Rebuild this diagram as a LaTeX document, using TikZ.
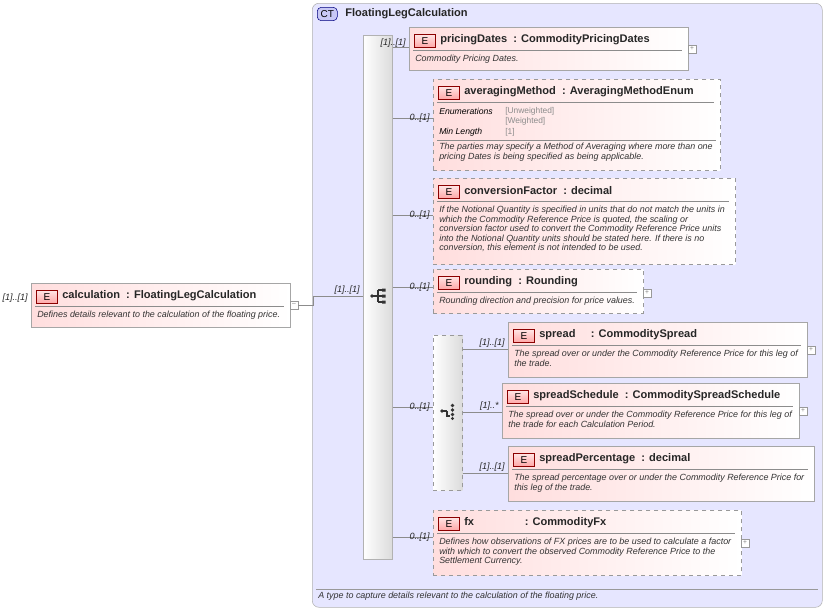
\documentclass[tikz,border=0pt]{standalone}
\usepackage{fontspec}
\setmainfont{Liberation Sans}
\begin{document}
\begin{tikzpicture}[x=0.75pt,y=-0.75pt,
  elem/.style={draw=black!35,left color=red!13,right color=white,inner sep=0,anchor=north west},
  opt/.style={dashed,draw=black!40},
  badge/.style={draw=red!55!black,top color=red!10,bottom color=red!35,inner sep=0,minimum width=16pt,minimum height=10pt,font=\fontsize{7.5}{8}\selectfont,anchor=west},
  ttl/.style={font=\fontsize{8.3}{9}\selectfont\bfseries,text=black!85,anchor=west,inner sep=0},
  desc/.style={font=\fontsize{6.7}{7.1}\selectfont\itshape,text=black!80,anchor=north west,inner sep=0,align=left},
  card/.style={font=\fontsize{6.8}{7}\selectfont\itshape,text=black!85,inner sep=0,anchor=east},
  pm/.style={draw=black!40,fill=white,minimum size=6pt,inner sep=0,font=\fontsize{5}{5}\selectfont,text=black!50},
  conn/.style={draw=black!45,line width=0.5pt},
  bar/.style={draw=black!30,left color=white,right color=black!14,inner sep=0,anchor=north west}]
\useasboundingbox (0,0) rectangle (826,611);
\fill[white] (0,0) rectangle (826,611);
\newcommand\elbox[7]{%
  \node[elem,#6,minimum width={(#4-#2)*0.75pt},minimum height={(#5-#3)*0.75pt}] (#1) at (#2,#3) {};
  \node[badge] (#1b) at (#2+5,#3+14) {E};
  \node[ttl] (#1t) at (#2+31,#3+13) {#7};
  \draw[black!45,line width=0.4pt] (#2+4,#3+23) -- (#4-6,#3+23);}
% CT box
\node[draw=black!30,rounded corners=5pt,fill={rgb,255:red,230;green,230;blue,255},minimum width={510*0.75pt},minimum height={604*0.75pt},anchor=north west,inner sep=0] (ct) at (312,3) {};
\node[draw=blue!50!black,rounded corners=3pt,fill={rgb,255:red,200;green,200;blue,245},inner sep=1pt,minimum width=15pt,minimum height=10pt,font=\fontsize{7.5}{8}\selectfont,anchor=west] (ctb) at (317,14) {CT};
\node[ttl] (ctt) at (345,14) {FloatingLegCalculation};
\draw[black!40] (316,589) -- (818,589);
\node[desc,anchor=west] (ctd) at (318,596) {A type to capture details relevant to the calculation of the floating price.};
% calculation
\elbox{calc}{31}{283}{290}{327}{}{calculation\ \ : FloatingLegCalculation}
\node[desc] at (37,311) {Defines details relevant to the calculation of the floating price.};
\node[card] (c0) at (28,298) {[1]..[1]};
\node[pm] (calcm) at (294,305) {--};
% sequence bar
\node[bar,minimum width={29*0.75pt},minimum height={524*0.75pt}] (seq) at (363,35) {};
\coordinate (seqj) at (363,296);
\coordinate (ctj) at (313,296);
\draw[conn] (calcm.east) -- (313,305) -- (ctj) -- (seqj);
\node[card] at (360,290) {[1]..[1]};
\begin{scope}[shift={(378,296)}]
\fill[black!80] (-6,0) circle (1.8);
\draw[black!80,line width=0.9pt] (-6,0) -- (0,0) (0,-6) -- (0,6) (0,-6) -- (4,-6) (0,0)--(4,0) (0,6)--(4,6);
\fill[black!80] (4,-7.5) rectangle (7.5,-4.5) (4,-1.5) rectangle (7.5,1.5) (4,4.5) rectangle (7.5,7.5);
\end{scope}
% pricingDates
\elbox{pd}{409}{27}{688}{70}{}{pricingDates\ \ : CommodityPricingDates}
\node[desc] at (415,55) {Commodity Pricing Dates.};
\node[pm] (pdp) at (692,49) {+};
\draw[conn] (seq.east |- 0,47) -- (pd.west |- 0,47);
\node[card] at (406,43) {[1]..[1]};
% averagingMethod
\elbox{am}{433}{79}{720}{170}{opt}{averagingMethod\ \ : AveragingMethodEnum}
\node[inner sep=0,anchor=west,font=\fontsize{6.5}{7}\selectfont\itshape] at (439,111) {Enumerations};
\node[inner sep=0,anchor=west,font=\fontsize{6.5}{7}\selectfont\itshape] at (439,132) {Min Length};
\node[anchor=west,inner sep=0,font=\fontsize{6.3}{7}\selectfont,text=black!45] at (505,111) {[Unweighted]};
\node[anchor=west,inner sep=0,font=\fontsize{6.3}{7}\selectfont,text=black!45] at (505,121) {[Weighted]};
\node[anchor=west,inner sep=0,font=\fontsize{6.3}{7}\selectfont,text=black!45] at (505,132) {[1]};
\draw[black!45,line width=0.4pt] (437,140) -- (716,140);
\node[desc] at (439,143) {The parties may specify a Method of Averaging where more than one\\pricing Dates is being specified as being applicable.};
\draw[conn] (seq.east |- 0,118) -- (am.west |- 0,118);
\node[card] at (430,118) {0..[1]};
% conversionFactor
\elbox{cf}{433}{178}{735}{264}{opt}{conversionFactor\ \ : decimal}
\node[desc] at (439,206) {If the Notional Quantity is specified in units that do not match the units in\\which the Commodity Reference Price is quoted, the scaling or\\conversion factor used to convert the Commodity Reference Price units\\into the Notional Quantity units should be stated here. If there is no\\conversion, this element is not intended to be used.};
\draw[conn] (seq.east |- 0,215) -- (cf.west |- 0,215);
\node[card] at (430,215) {0..[1]};
% rounding
\elbox{rd}{433}{269}{643}{313}{opt}{rounding\ \ : Rounding}
\node[desc] at (439,297) {Rounding direction and precision for price values.};
\node[pm] (rdp) at (647,293) {+};
\draw[conn] (seq.east |- 0,287) -- (rd.west |- 0,287);
\node[card] at (430,287) {0..[1]};
% choice group
\node[bar,opt,minimum width={29*0.75pt},minimum height={155*0.75pt}] (ch) at (433,335) {};
\draw[conn] (seq.east |- 0,407) -- (ch.west |- 0,407);
\node[card] at (430,407) {0..[1]};
\begin{scope}[shift={(448,411)}]
\fill[black!80] (-6,0) circle (1.8);
\draw[black!80,line width=0.9pt] (-6,0) -- (-1,0) (-1,0) -- (-1,5) -- (2,5);
\fill[black!80] (4.5,-5.5) circle (1.8) (4.5,-1) circle (1.8) (4.5,3.5) circle (1.8) (4.5,7.5) circle (1.6);
\end{scope}
% spread
\elbox{sp}{508}{322}{807}{377}{}{spread\ \ \ \ \ : CommoditySpread}
\node[desc] at (514,350) {The spread over or under the Commodity Reference Price for this leg of\\the trade.};
\node[pm] (spp) at (811,350) {+};
\draw[conn] (ch.east |- 0,349) -- (sp.west |- 0,349);
\node[card] at (505,343) {[1]..[1]};
% spreadSchedule
\elbox{ss}{502}{383}{799}{438}{}{spreadSchedule\ \ : CommoditySpreadSchedule}
\node[desc] at (508,411) {The spread over or under the Commodity Reference Price for this leg of\\the trade for each Calculation Period.};
\node[pm] (ssp) at (803,411) {+};
\draw[conn] (ch.east |- 0,412) -- (ss.west |- 0,412);
\node[card] at (499,406) {[1]..*};
% spreadPercentage
\elbox{spc}{508}{446}{814}{501}{}{spreadPercentage\ \ : decimal}
\node[desc] at (514,474) {The spread percentage over or under the Commodity Reference Price for\\this leg of the trade.};
\draw[conn] (ch.east |- 0,473) -- (spc.west |- 0,473);
\node[card] at (505,467) {[1]..[1]};
% fx
\elbox{fx}{433}{510}{741}{575}{opt}{fx\hspace{38pt}: CommodityFx}
\node[desc] at (439,538) {Defines how observations of FX prices are to be used to calculate a factor\\with which to convert the observed Commodity Reference Price to the\\Settlement Currency.};
\node[pm] (fxp) at (745,543) {+};
\draw[conn] (seq.east |- 0,537) -- (fx.west |- 0,537);
\node[card] at (430,537) {0..[1]};
\end{tikzpicture}
\end{document}
